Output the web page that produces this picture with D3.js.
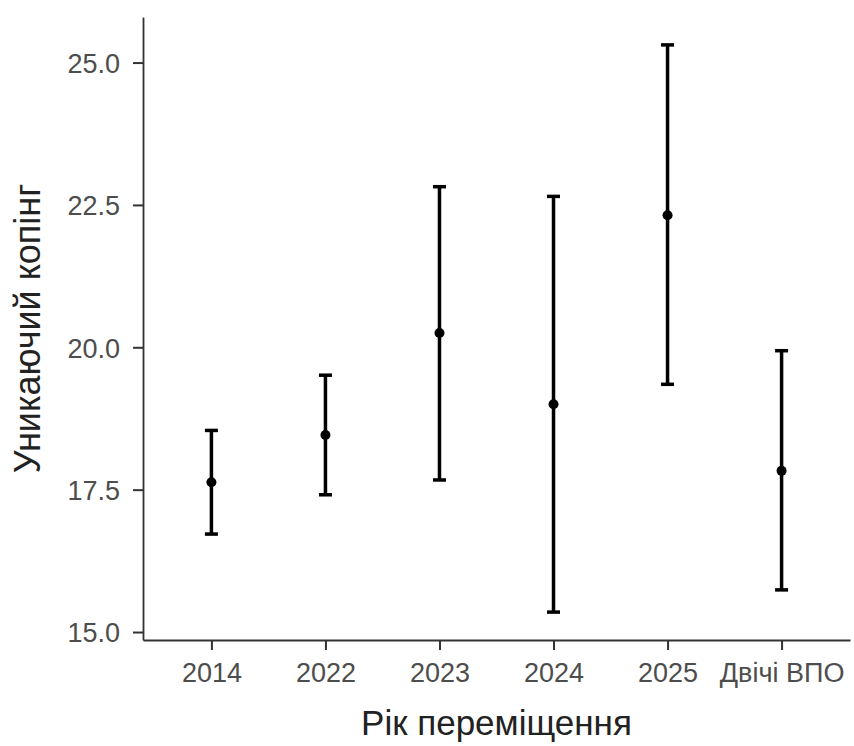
<!DOCTYPE html>
<html>
<head>
<meta charset="utf-8">
<script src="https://cdn.jsdelivr.net/npm/d3@7"></script>
<style>
  body { margin: 0; background: #fff; }
  text { font-family: "Liberation Sans", Arial, sans-serif; }
</style>
</head>
<body>
<div id="chart"></div>
<script>
// дані: середнє та межі довірчого інтервалу
const groups = ['2014', '2022', '2023', '2024', '2025', 'Двічі ВПО'];
const means = [17.63, 18.46, 20.25, 19.00, 22.32, 17.83];
const lower = [16.72, 17.41, 17.67, 15.35, 19.35, 15.74];
const upper = [18.54, 19.51, 22.82, 22.65, 25.31, 19.94];
const yTicks = [15.0, 17.5, 20.0, 22.5, 25.0];

const svgwidth = 854;
const svgheight = 746;
const margin = { left: 143, right: 4, top: 17, bottom: 106 };
const width = svgwidth - margin.left - margin.right;
const height = svgheight - margin.top - margin.bottom;

const svg = d3.select('#chart').append('svg')
  .attr('width', svgwidth)
  .attr('height', svgheight);
const g = svg.append('g').attr('transform', `translate(${margin.left},${margin.top})`);

const x = d3.scalePoint()
  .domain(groups)
  .range([0, width])
  .padding(0.6);
const y = d3.scaleLinear()
  .domain([14.86, 25.8])
  .range([height, 0]);

// осі
const xAxis = g.append('g')
  .attr('transform', `translate(0,${height})`)
  .call(d3.axisBottom(x).tickSize(10).tickPadding(13).tickSizeOuter(0));
const yAxis = g.append('g')
  .call(d3.axisLeft(y).tickValues(yTicks).tickFormat(d3.format('.1f'))
    .tickSize(10).tickPadding(13).tickSizeOuter(0));
[xAxis, yAxis].forEach((ax) => {
  ax.select('.domain').attr('stroke', '#333').attr('stroke-width', 1.8);
  ax.selectAll('.tick line').attr('stroke', '#333').attr('stroke-width', 2);
  ax.selectAll('.tick text')
    .attr('fill', '#4d4d4d')
    .attr('font-size', '27px')
    .attr('font-family', '"Liberation Sans", Arial, sans-serif');
});
yAxis.selectAll('.tick text').attr('dy', '0.36em');

// планки похибок
const rows = groups.map((d, i) => ({ group: d, mean: means[i], lo: lower[i], hi: upper[i] }));
const bars = g.selectAll('.bar').data(rows).enter().append('g').attr('class', 'bar');
bars.append('line')
  .attr('x1', d => x(d.group)).attr('x2', d => x(d.group))
  .attr('y1', d => y(d.lo)).attr('y2', d => y(d.hi))
  .attr('stroke', '#000').attr('stroke-width', 3.5);
bars.selectAll('.cap')
  .data(d => [{ g: d.group, v: d.lo }, { g: d.group, v: d.hi }])
  .enter().append('line')
  .attr('class', 'cap')
  .attr('x1', d => x(d.g) - 6.5).attr('x2', d => x(d.g) + 6.5)
  .attr('y1', d => y(d.v)).attr('y2', d => y(d.v))
  .attr('stroke', '#000').attr('stroke-width', 3.5);
bars.append('circle')
  .attr('cx', d => x(d.group))
  .attr('cy', d => y(d.mean))
  .attr('r', 5)
  .attr('fill', '#000');

// підписи осей
svg.append('text')
  .attr('x', margin.left + width / 2)
  .attr('y', 735)
  .attr('text-anchor', 'middle')
  .attr('font-size', '35px')
  .attr('fill', '#222')
  .text('Рік переміщення');
svg.append('text')
  .attr('transform', `translate(40,${margin.top + height / 2}) rotate(-90)`)
  .attr('text-anchor', 'middle')
  .attr('font-size', '36px')
  .attr('fill', '#222')
  .text('Уникаючий копінг');
</script>
</body>
</html>
